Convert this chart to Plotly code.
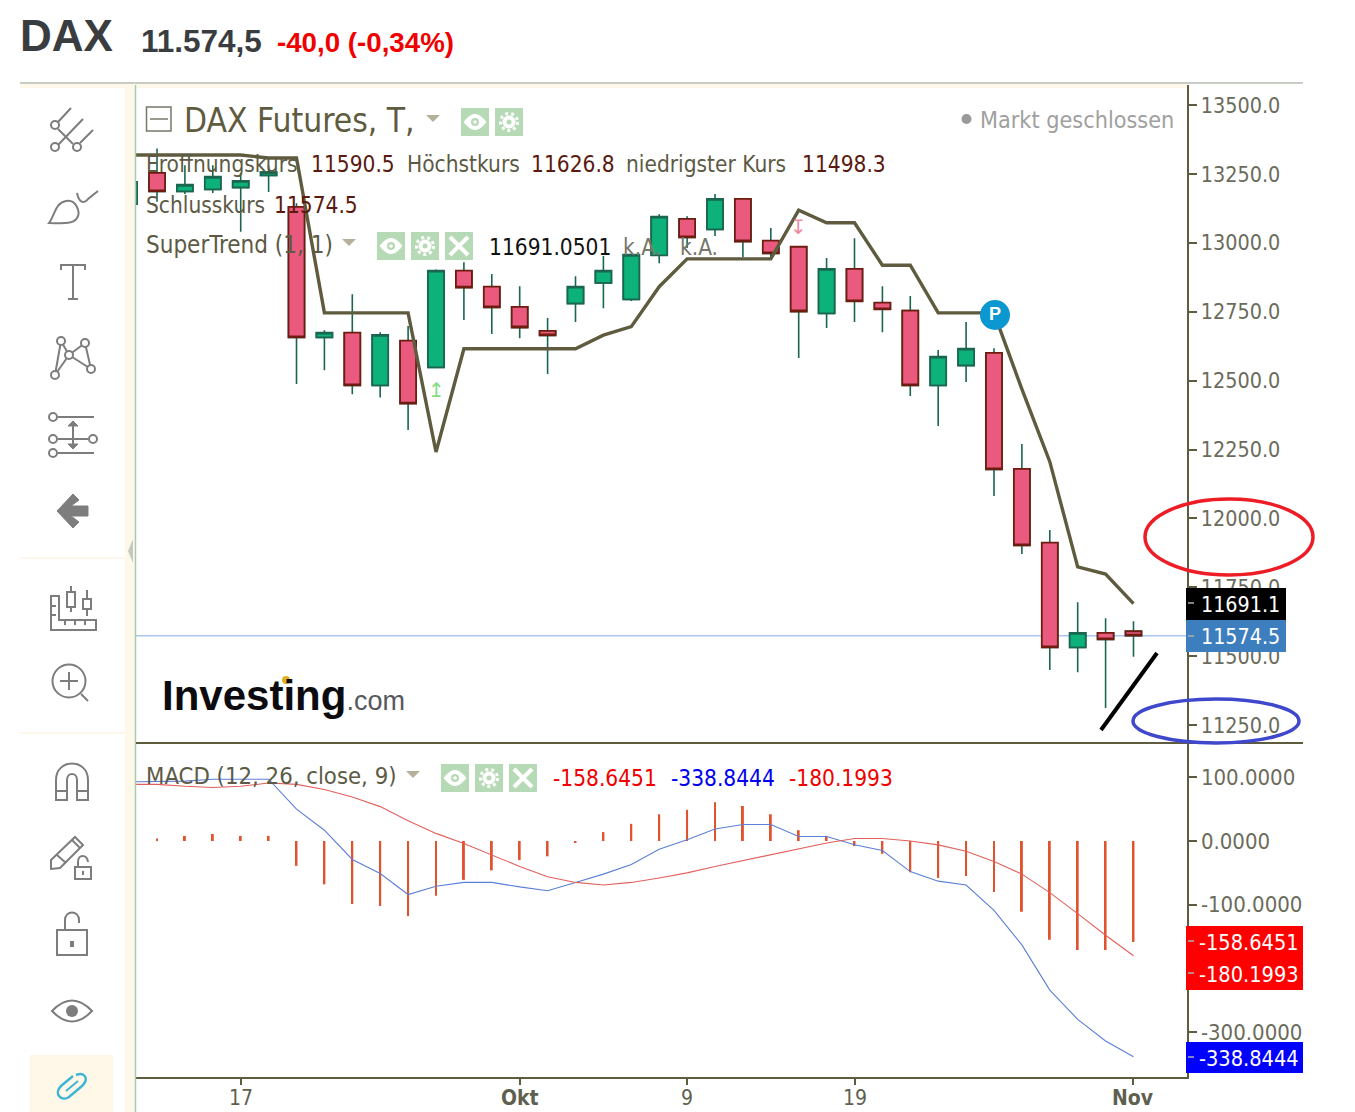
import re
import pandas as pd
import plotly.graph_objects as go
from plotly.subplots import make_subplots

W, H = 1355, 1112
FONT = "DejaVu Sans Condensed, DejaVu Sans"
ARIAL = "Liberation Sans"
OLIVE = "#5f5b3f"
ICON = "#7d7d7d"

# Tagesdaten (Handelstage)
dates = pd.bdate_range("2020-09-11", periods=37).strftime("%Y-%m-%d").tolist()
tick_dates = ["2020-09-17", "2020-10-01", "2020-10-09", "2020-10-19", "2020-11-02"]
tick_text = ["17", "<b>Okt</b>", "9", "19", "<b>Nov</b>"]

open_ = [13141, 13254, 13187, 13194, 13201, 13245, 13131, 12657, 12674, 12483, 12645, 12548, 12899,
         12841, 12768, 12681, 12780, 12855, 12795, 12955, 13087, 13049, 13160, 13008, 12986, 12744,
         12906, 12783, 12754, 12483, 12555, 12601, 12180, 11912, 11532, 11585, 11590.5]
high = [13230, 13343, 13282, 13282, 13253, 13282, 13144, 12683, 12814, 12676, 12698, 12903, 12930,
        12887, 12843, 12727, 12879, 12952, 12960, 13104, 13097, 13177, 13163, 13054, 12988, 12945,
        13017, 12843, 12807, 12611, 12713, 12618, 12270, 11958, 11696, 11638, 11626.8]
low = [13120, 13149, 13177, 13181, 13040, 13185, 12488, 12538, 12451, 12439, 12321, 12545, 12720,
       12669, 12654, 12524, 12713, 12763, 12789, 12926, 12981, 13025, 12948, 12942, 12582, 12691,
       12713, 12676, 12444, 12335, 12495, 12081, 11871, 11450, 11442, 11312, 11498.3]
close = [13221, 13187, 13211, 13240, 13225, 13257, 12657, 12674, 12483, 12666, 12417, 12899, 12838,
         12766, 12693, 12664, 12841, 12899, 12957, 13095, 13020, 13160, 13005, 12962, 12751, 12906,
         12788, 12759, 12483, 12587, 12616, 12178, 11902, 11532, 11585, 11561, 11574.5]
supertrend = [13319, 13319, 13319, 13319, 13319, 13308, 13308, 12746, 12746, 12746, 12746, 12241, 12616,
              12616, 12616, 12616, 12616, 12665, 12696, 12841, 12942, 12942, 12942, 12942, 13119, 13073,
              13073, 12919, 12919, 12746, 12746, 12746, 12469, 12206, 11824, 11798, 11691.05]

macd = [93, 93, 94, 97, 97, 97, 50, 17, -29, -51, -84, -71, -65,
        -65, -72, -78, -65, -52, -37, -13, 2, 19, 26, 26, 7, 7,
        -6, -15, -48, -63, -69, -109, -163, -234, -280, -314, -338.8444]
signal = [89, 89, 86, 84, 86, 91, 89, 81, 69, 54, 32, 12, -4,
          -22, -40, -56, -65, -69, -65, -58, -50, -40, -31, -22, -12, -3,
          4, 4, 0, -6, -16, -32, -52, -81, -114, -148, -180.1993]
hist = [0, 4, 8, 11, 8, 8, -39, -68, -99, -102, -118, -86, -61,
        -46, -30, -24, -3, 14, 27, 42, 49, 61, 55, 42, 17, 8,
        -8, -20, -49, -58, -55, -80, -111, -155, -171, -171, -158.6451]

price_ticks = [13500, 13250, 13000, 12750, 12500, 12250, 12000, 11750, 11500, 11250]
macd_ticks = [100, 0, -100, -200, -300]


def xp(x):
    return x / W


def yp(y):
    return 1 - y / H


def px_path(d):
    # Pfad in Pixeln -> paper-Koordinaten
    return re.sub(r"(-?\d+\.?\d*) (-?\d+\.?\d*)", lambda m: f"{xp(float(m[1])):.5f} {yp(float(m[2])):.5f}", d)


fig = make_subplots(rows=2, cols=1, shared_xaxes=True, vertical_spacing=0)

# Dochte in Gruen, Koerper darueber
fig.add_trace(go.Candlestick(x=dates, open=open_, high=high, low=low, close=close, whiskerwidth=0,
                             increasing=dict(line=dict(color="#1a6650", width=1.6), fillcolor="#0cb27a"),
                             decreasing=dict(line=dict(color="#1a6650", width=1.6), fillcolor="#ea5a7f"),
                             hoverinfo="skip"), row=1, col=1)
fig.add_trace(go.Candlestick(x=dates, open=open_, close=close,
                             high=[max(o, c) for o, c in zip(open_, close)],
                             low=[min(o, c) for o, c in zip(open_, close)], whiskerwidth=0,
                             increasing=dict(line=dict(color="#1a6650", width=1.8), fillcolor="#0cb27a"),
                             decreasing=dict(line=dict(color="#6e1c10", width=1.8), fillcolor="#ea5a7f"),
                             hoverinfo="skip"), row=1, col=1)
fig.add_trace(go.Scatter(x=dates, y=supertrend, mode="lines", line=dict(color=OLIVE, width=3.4)), row=1, col=1)

fig.add_trace(go.Bar(x=dates, y=hist, width=0.07, marker=dict(color="#e0532f", line_width=0)), row=2, col=1)
fig.add_trace(go.Scatter(x=dates, y=macd, mode="lines", line=dict(color="#5b7fd8", width=1.1)), row=2, col=1)
fig.add_trace(go.Scatter(x=dates, y=signal, mode="lines", line=dict(color="#e2605c", width=1.1)), row=2, col=1)

fig.update_layout(
    width=W, height=H, margin=dict(l=0, r=0, t=0, b=0, autoexpand=False), paper_bgcolor="white", plot_bgcolor="white",
    showlegend=False, boxgap=0.18,
    xaxis=dict(domain=[xp(136), xp(1186.5)], type="category", categoryorder="array", categoryarray=dates,
               range=[0.247, 37.9], rangeslider_visible=False, showgrid=False, ticks="", showticklabels=False),
    xaxis2=dict(domain=[xp(136), xp(1186.5)], type="category", categoryorder="array", categoryarray=dates,
                range=[0.247, 37.9], rangeslider_visible=False, showgrid=False, showline=True, linecolor=OLIVE,
                linewidth=2, ticks="outside", ticklen=6, tickcolor=OLIVE, tickwidth=2, tickvals=tick_dates,
                showticklabels=False),
    yaxis=dict(domain=[yp(743), yp(85)], side="right", range=[11185, 13573], tickvals=price_ticks,
               ticktext=[f"{v:.1f}" for v in price_ticks], showgrid=False, zeroline=False, showline=True,
               linecolor=OLIVE, linewidth=2, ticks="outside", ticklen=8, tickcolor=OLIVE, tickwidth=2,
               tickfont=dict(family=FONT, size=21.4, color="#6b6b5c")),
    yaxis2=dict(domain=[yp(1077), yp(743)], side="right", range=[-370.5, 153.9], tickvals=macd_ticks,
                ticktext=[f"{v:.4f}" for v in macd_ticks], showgrid=False, zeroline=False, showline=True,
                linecolor=OLIVE, linewidth=2, ticks="outside", ticklen=8, tickcolor=OLIVE, tickwidth=2,
                tickfont=dict(family=FONT, size=22, color="#6b6b5c")),
)


def line(x0, y0, x1, y1, color=ICON, width=2):
    fig.add_shape(type="line", xref="paper", yref="paper", x0=xp(x0), y0=yp(y0), x1=xp(x1), y1=yp(y1),
                  line=dict(color=color, width=width), layer="above")


def rect(x0, y0, x1, y1, fill=None, color=None, width=0):
    fig.add_shape(type="rect", xref="paper", yref="paper", x0=xp(x0), y0=yp(y0), x1=xp(x1), y1=yp(y1),
                  fillcolor=fill, line=dict(color=color, width=width), layer="above")


def circle(cx, cy, rx, ry=None, fill=None, color=ICON, width=2, dash=None):
    ry = rx if ry is None else ry
    fig.add_shape(type="circle", xref="paper", yref="paper", x0=xp(cx - rx), y0=yp(cy - ry), x1=xp(cx + rx),
                  y1=yp(cy + ry), fillcolor=fill, line=dict(color=color, width=width, dash=dash), layer="above")


def path(d, fill=None, color=ICON, width=2):
    fig.add_shape(type="path", xref="paper", yref="paper", path=px_path(d), fillcolor=fill,
                  line=dict(color=color, width=width), layer="above")


def txt(x, y, s, size=22.5, color="#5c5a45", family=FONT, anchor="left"):
    fig.add_annotation(xref="paper", yref="paper", x=xp(x - 1), y=yp(y), text=s, showarrow=False, xanchor=anchor,
                       yanchor="middle", borderpad=0, font=dict(size=size, color=color, family=family))


def button(x, y, kind):
    green = "#b6dab6"
    rect(x, y, x + 28, y + 28, fill=green)
    cx, cy = x + 14, y + 14
    if kind == "eye":
        path(f"M{x + 3} {cy} Q{cx} {y - 1} {x + 25} {cy} Q{cx} {y + 29} {x + 3} {cy} Z", fill="white", color="white", width=1)
        circle(cx, cy, 4, fill=green, color=green, width=0)
        circle(cx, cy, 1.8, fill="white", color="white", width=0)
    elif kind == "gear":
        circle(cx, cy, 8.5, color="white", width=3, dash="3px,3px")
        circle(cx, cy, 6.5, fill="white", color="white", width=0)
        circle(cx, cy, 2.5, fill=green, color=green, width=0)
    else:
        line(x + 5, y + 5, x + 23, y + 23, color="white", width=4)
        line(x + 5, y + 23, x + 23, y + 5, color="white", width=4)


def triangle(x, y):
    path(f"M{x - 7} {y - 3} L{x + 7} {y - 3} L{x} {y + 4} Z", fill="#b5b09a", color="#b5b09a", width=0)


# Rahmen und Seitenleiste
rect(125, 85, 135, 1112, fill="#fdf8e8")
rect(20, 84, 1187, 88, fill="#fdf8ea")
line(135.5, 85, 135.5, 1112, color="#a9c9b0", width=1.5)
line(20, 83, 1303, 83, color="#b4bbb0", width=1.5)
line(136, 743, 1303, 743, color=OLIVE, width=2)
line(20, 558, 125, 558, color="#fbeed6", width=1)
line(20, 733, 125, 733, color="#fbeed6", width=1)
path("M133 539 L133 563 L128 551 Z", fill="#c5c9c4", color="#c5c9c4", width=0)
rect(30, 1055, 113, 1112, fill="#fff8e8")

# Werkzeug-Icons
for c in [(55, 125), (55, 147), (77, 147)]:
    circle(c[0], c[1], 4)
line(58, 122, 71, 108)
line(58, 145, 83, 119)
line(80, 143, 93, 130)
line(58, 129, 73, 144)
path("M49 223 C55 215 55 203 66 201 C76 199 81 212 77 218 C73 225 60 223 49 223 Z")
path("M77 193 C79 203 84 204 88 199 L98 191")
path("M61 270 L61 265 L85 265 L85 270")
line(73, 265, 73, 299)
line(68, 299, 78, 299)
for a, b in [(0, 1), (1, 2), (0, 2), (2, 3), (3, 4), (2, 4)]:
    pts = [(61, 341), (55, 375), (69, 355), (85, 343), (91, 369)]
    line(*pts[a], *pts[b])
for c in [(61, 341), (55, 375), (69, 355), (85, 343), (91, 369)]:
    circle(c[0], c[1], 4, fill="white")
line(58, 417, 94, 417)
line(58, 439, 88, 439)
line(58, 453, 94, 453)
line(73, 421, 73, 449)
path("M68 426 L73 421 L78 426 Z M68 444 L73 449 L78 444 Z", fill=ICON, width=1)
for c in [(53, 417), (53, 439), (93, 439), (53, 453)]:
    circle(c[0], c[1], 4, fill="white")
path("M57 511 L73 494 L79 500 L71 506 L88 506 L88 516 L71 516 L79 522 L73 528 Z", fill=ICON, color=ICON, width=1)

path("M51 596 L59 596 L59 620 L96 620 L96 630 L51 630 Z")
line(65, 620, 65, 625)
line(75, 620, 75, 625)
line(85, 620, 85, 625)
line(51, 606, 56, 606)
line(51, 615, 56, 615)
rect(67, 592, 75, 607, color=ICON, width=2)
line(71, 586, 71, 592)
line(71, 607, 71, 612)
rect(83, 599, 91, 609, color=ICON, width=2)
line(87, 590, 87, 599)
line(87, 609, 87, 616)
circle(69, 681, 16.5)
line(60, 681, 78, 681)
line(69, 672, 69, 690)
line(81, 694, 88, 701)
path("M56 800 L56 780 C56 758 88 758 88 780 L88 800 L77 800 L77 780 C77 772 67 772 67 780 L67 800 Z")
line(56, 791, 67, 791)
line(77, 791, 88, 791)
path("M51 860 L75 837 L83 845 L60 868 L51 869 Z")
line(57, 855, 66, 863)
line(72, 840, 80, 848)
rect(75, 867, 91, 879, color=ICON, width=2)
path("M78 867 L78 862 C78 854 87 854 88 862")
line(83, 871, 83, 875)
rect(57, 930, 87, 955, color=ICON, width=2)
path("M65 930 L65 920 C65 910 79 910 79 920 L79 923")
line(72, 941, 72, 947, width=4)
path("M52 1011 Q72 990 92 1011 Q72 1032 52 1011 Z")
circle(72, 1011, 6, fill=ICON, width=0)
path("M73 1076 L61 1086 C53 1094 62 1102 69 1097 L82 1086 C90 1078 84 1072 76 1075", color="#3fb5d6", width=2.5)
line(66, 1091, 78, 1081, color="#3fb5d6", width=2)

# Kopfzeile
txt(20, 35.5, "<b>DAX</b>", size=44, color="#3a3d40", family=ARIAL)
txt(141, 41, "<b>11.574,5</b>", size=31.5, color="#3a3d40", family=ARIAL)
txt(277, 43, "<b>-40,0 (-0,34%)</b>", size=27.7, color="#f00000", family=ARIAL)

# Legende Hauptchart
rect(146.5, 107, 171, 131, color="#77786a", width=1.5)
line(150, 119, 168, 119, color="#77786a", width=1.5)
txt(184, 120, "DAX Futures, T,", size=33.3, color=OLIVE)
triangle(433, 118)
button(461, 108, "eye")
button(495, 108, "gear")
circle(966.5, 119, 5, fill="#9a9a9a", color="#9a9a9a", width=0)
txt(980, 119, "Markt geschlossen", size=23.2, color="#a0a0a0")
txt(146, 164, "Eröffnungskurs")
txt(311, 164, "11590.5", color="#5a1a10")
txt(407, 164, "Höchstkurs")
txt(531, 164, "11626.8", color="#5a1a10")
txt(626, 164, "niedrigster Kurs")
txt(802, 164, "11498.3", color="#5a1a10")
txt(146, 205, "Schlusskurs")
txt(274, 205, "11574.5", color="#5a1a10")
txt(146, 245, "SuperTrend (1, 1)", size=24)
triangle(349, 242)
button(377, 232, "eye")
button(411, 232, "gear")
button(445, 232, "x")
txt(489, 247, "11691.0501", color="#111111")
txt(623, 247, "k.A.", color="#77786a")
txt(680, 247, "k.A.", color="#77786a")

# Legende MACD
txt(146, 776, "MACD (12, 26, close, 9)", size=23.7)
triangle(413, 774)
button(441, 764, "eye")
button(475, 764, "gear")
button(509, 764, "x")
txt(553, 778, "-158.6451", color="#f00000")
txt(671, 778, "-338.8444", color="#0000f0")
txt(789, 778, "-180.1993", color="#f00000")

# Wasserzeichen
txt(162, 695, "<b>Investing</b><span style='font-size:27px;color:#55585c'>.com</span>", size=42, color="#0c0c10", family=ARIAL)
circle(286, 680, 4, fill="#e0b020", color="#e0b020", width=0)

# Zeitachse
for d, t in zip(tick_dates, tick_text):
    fig.add_annotation(xref="x2", yref="paper", x=d, y=yp(1098), text=t, showarrow=False, yanchor="middle",
                       font=dict(family=FONT, size=21, color="#5f5f50"))

# Marker am Kurs
fig.add_annotation(xref="x", yref="y", x=dates[11], y=12466, text="↥", showarrow=False,
                   font=dict(size=20, color="#7fdd7f", family="DejaVu Sans"))
fig.add_annotation(xref="x", yref="y", x=dates[24], y=13057, text="↧", showarrow=False,
                   font=dict(size=20, color="#f08aa0", family="DejaVu Sans"))
circle(995, 315, 15, fill="#0b97cf", color="#0b97cf", width=0)
txt(995.5, 314, "<b>P</b>", size=18, color="white", family=ARIAL, anchor="center")

# aktueller Kurs
fig.add_shape(type="line", xref="x domain", x0=0, x1=1, yref="y", y0=close[-1], y1=close[-1],
              line=dict(color="#a9c6f5", width=1.5), layer="below")

# Kursmarken rechts
rect(1186, 588, 1286, 620, fill="#000000")
rect(1186, 620, 1286, 652, fill="#3d7ebf")
rect(1186, 926, 1303, 990, fill="#ff0000")
rect(1186, 1042, 1303, 1073, fill="#0000ff")
txt(1201, 604, "11691.1", size=21.3, color="white")
txt(1201, 636, f"{close[-1]:.1f}", size=21.3, color="white")
txt(1199, 942, f"{hist[-1]:.4f}", size=21.6, color="white")
txt(1199, 974, f"{signal[-1]:.4f}", size=21.6, color="white")
txt(1199, 1058, f"{macd[-1]:.4f}", size=21.6, color="white")
for ty in [603, 636, 941, 973, 1057]:
    line(1188, ty, 1194, ty, color="#b0b0b0", width=1.5)

# Handzeichnungen
circle(1229, 537, 84, 38, color="#ee1c25", width=3.5)
circle(1216, 721, 83, 22, color="#3f48cc", width=3.5)
line(1101, 730, 1157, 653, color="#000000", width=4)

fig.write_html("out.html", config={"displayModeBar": False}, post_script="document.body.style.margin='0'")
